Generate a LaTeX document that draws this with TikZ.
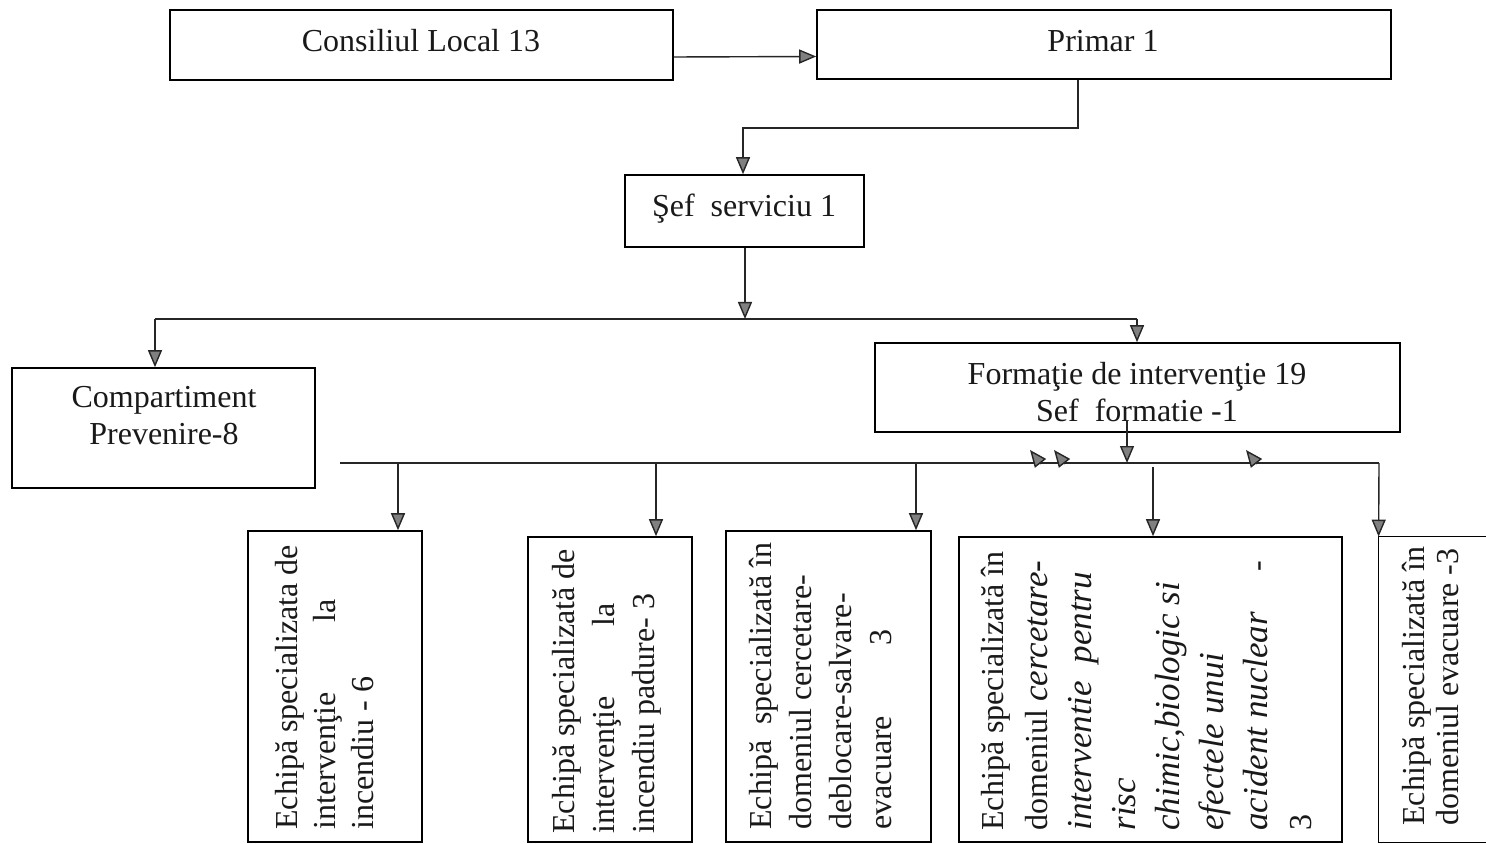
\documentclass[tikz,border=0pt]{standalone}
\usepackage{fontspec}
\setmainfont{Liberation Serif}
\usetikzlibrary{arrows.meta,fit}
\newcommand\itbig[1]{{\fontsize{17.5}{22}\selectfont\itshape #1}}
\begin{document}
\begin{tikzpicture}[x=0.5pt,y=-0.5pt,
  box/.style={draw=black, line width=0.8pt, inner sep=0pt, rectangle},
  boxline/.style={draw=black, line width=0.8pt},
  lbl/.style={font=\fontsize{16}{18.5}\selectfont, align=center, inner sep=0pt, text=black!90},
  vtxt/.style={rotate=90, anchor=north west, align=left, inner sep=0pt, text=black!90},
  conn/.style={line width=0.7pt, draw=black!85},
  arr/.style={conn, -{Triangle[length=8.5pt,width=7pt,fill=black!50]}}]
\useasboundingbox (0,0) rectangle (1486,844);
\fill[white] (0,0) rectangle (1486,844);

% top level
\node[box, fit={(170,10) (673,80)}] (cl) {};
\node[lbl] (cltxt) at (421,41) {Consiliul Local 13};
\node[box, fit={(817,10) (1391,79)}] (pr) {};
\node[lbl] (prtxt) at (1103,41) {Primar 1};
\node[box, fit={(625,175) (864,247)}] (sef) {};
\node[lbl] (seftxt) at (744,209) {Şef\ \ serviciu 1};
\node[box, fit={(12,368) (315,488)}] (comp) {};
\node[lbl] (comptxt) at (164,416) {Compartiment\\Prevenire-8};
\node[box, fit={(875,343) (1400,432)}] (form) {};
\node[lbl] (formtxt) at (1137,392) {Formaţie de intervenţie 19\\Sef\ \ formatie -1};

% bottom boxes
\node[box, fit={(248,531) (422,842)}] (e1) {};
\node[vtxt, font=\fontsize{16}{19}\selectfont] (e1t) at (275,830)
  {Echipă specializata de\\intervenţie\hspace{2.2em}la\\incendiu - 6};
\node[box, fit={(528,537) (692,842)}] (e2) {};
\node[vtxt, font=\fontsize{16}{20}\selectfont] (e2t) at (552,834)
  {Echipă specializată de\\intervenţie\hspace{2.2em}la\\incendiu padure- 3};
\node[box, fit={(726,531) (931,842)}] (e3) {};
\node[vtxt, font=\fontsize{16}{20}\selectfont] (e3t) at (749,830)
  {Echipă\ \ specializată în\\domeniul cercetare-\\deblocare-salvare-\\evacuare\hspace{2.2em}3};
\node[box, fit={(959,537) (1342,842)}] (e4) {};
\node[vtxt, font=\fontsize{16}{22}\selectfont] (e4t) at (981,831)
  {Echipă specializată în\\domeniul \itbig{cercetare-}\\\itbig{interventie\ \ pentru}\\\itbig{risc}\\\itbig{chimic,biologic si}\\\itbig{efectele unui}\\\itbig{acident nuclear}\hspace{1.25em}-\\3};
\node[inner sep=0pt, fit={(1379,537) (1486,842)}] (e5) {};
\draw[boxline] (e5.north east) -- (e5.north west) -- (e5.south west) -- (e5.south east);
\node[vtxt, font=\fontsize{16}{17}\selectfont] (e5t) at (1402,826)
  {Echipă specializată în\\domeniul evacuare -3};

% connectors
\draw[arr] ([yshift=-6pt]cl.east) -- ([yshift=-6pt]pr.west);
\coordinate (j1) at (1078,128);
\coordinate (j2) at (743,128);
\draw[arr] (pr.south -| j1) -- (j1) -- (j2) -- (sef.north -| j2);

\coordinate (b1c) at (745,319);
\coordinate (b1l) at (155,319);
\coordinate (b1r) at (1137,319);
\draw[arr] (sef.south -| b1c) -- (b1c);
\draw[conn] (b1l) -- (b1r);
\draw[arr] (b1l) -- (comp.north -| b1l);
\draw[arr] (b1r) -- (form.north -| b1r);

\coordinate (f1) at (1127,420);
\coordinate (b2c) at (1127,463);
\coordinate (b2l) at (340,463);
\coordinate (b2r) at (1379,463);
\draw[arr] (f1) -- (b2c);
\draw[conn] (b2l) -- (b2r);
\coordinate (d1) at (398,463);
\coordinate (d2) at (656,463);
\coordinate (d3) at (916,463);
\coordinate (d4) at (1153,467);
\draw[arr] (d1) -- (e1.north -| d1);
\draw[arr] (d2) -- (e2.north -| d2);
\draw[arr] (d3) -- (e3.north -| d3);
\draw[arr] (d4) -- (e4.north -| d4);
\draw[arr] (b2r) -- (e5.north west);

% stray arrowheads on the bus
\coordinate (s1) at (1041,464);
\coordinate (s2) at (1065,464);
\coordinate (s3) at (1257,464);
\draw[arr] (s1) -- ++(-11,-14);
\draw[arr] (s2) -- ++(-11,-14);
\draw[arr] (s3) -- ++(-11,-14);
\end{tikzpicture}
\end{document}
